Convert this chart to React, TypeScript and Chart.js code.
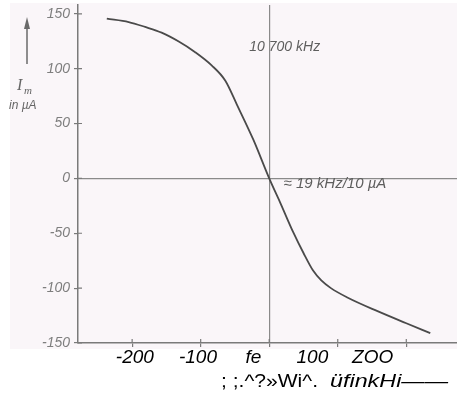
import React, { useEffect, useRef } from "react";
import { Chart, registerables } from "chart.js";

Chart.register(...registerables);

// frequency offset (kHz) and discriminator current (µA)
const freqKHz = [-237, -205, -181, -157, -132, -108, -84, -64, -47, -23, 0, 16, 35, 50, 64, 76, 90, 114, 158, 200, 235];
const currentMicroA = [145.6, 142.5, 138, 132.8, 124.7, 115, 103, 89, 67, 35, 0, -22, -49, -68, -84, -93, -100, -108.5, -121, -132, -141];

const yTickValues = [-150, -100, -50, 0, 50, 100, 150];
const xTickValues = [-200, -100, 0, 100, 200];
const xLabelTexts = ["-200", "-100", "fe", "100", "ZOO"];
const footerTextA = "; ;.^?»Wi^.";
const footerTextB = "üfinkHi——";
const centerNote = "10 700 kHz";
const slopeNote = "≈ 19 kHz/10 µA";

const AXIS_GRAY = "#7a7a7a";

function fillStretched(ctx: CanvasRenderingContext2D, text: string, x: number, y: number, width: number) {
  const w = ctx.measureText(text).width;
  ctx.save();
  ctx.translate(x, y);
  ctx.scale(width / w, 1);
  ctx.fillText(text, 0, 0);
  ctx.restore();
}

const decorPlugin = {
  id: "decor",
  beforeDraw(chart: any) {
    const { ctx, width, height } = chart;
    ctx.save();
    ctx.fillStyle = "#ffffff";
    ctx.fillRect(0, 0, width, height);
    ctx.fillStyle = "#faf6f9";
    ctx.fillRect(10, 3, width - 10, 346);
    ctx.restore();
  },
  afterDraw(chart: any) {
    const { ctx, chartArea } = chart;
    const xs = chart.scales.x;
    const ys = chart.scales.y;
    ctx.save();
    // inner halves of tick marks
    ctx.strokeStyle = AXIS_GRAY;
    ctx.lineWidth = 1.2;
    ctx.beginPath();
    for (const v of yTickValues) {
      const py = ys.getPixelForValue(v);
      ctx.moveTo(chartArea.left, py);
      ctx.lineTo(chartArea.left + 4, py);
    }
    for (const v of xTickValues) {
      const px = xs.getPixelForValue(v);
      ctx.moveTo(px, chartArea.bottom);
      ctx.lineTo(px, chartArea.bottom - 4);
    }
    ctx.stroke();

    // y-axis arrow
    ctx.strokeStyle = "#6a6a6a";
    ctx.fillStyle = "#6a6a6a";
    ctx.lineWidth = 1.5;
    ctx.beginPath();
    ctx.moveTo(27, 64);
    ctx.lineTo(27, 27);
    ctx.stroke();
    ctx.beginPath();
    ctx.moveTo(27, 17);
    ctx.lineTo(24, 29);
    ctx.lineTo(30, 29);
    ctx.closePath();
    ctx.fill();

    // y-axis title
    ctx.fillStyle = "#666";
    ctx.textBaseline = "alphabetic";
    ctx.textAlign = "left";
    ctx.font = "italic 16px 'Liberation Serif'";
    ctx.fillText("I", 17, 90);
    ctx.font = "italic 11px 'Liberation Serif'";
    ctx.fillText("m", 24, 94);
    ctx.font = "italic 12px 'Liberation Sans'";
    ctx.fillText("in µA", 9, 109);

    // annotations
    ctx.fillStyle = "#5e5e5e";
    ctx.font = "italic 14px 'Liberation Sans'";
    ctx.fillText(centerNote, xs.getPixelForValue(-29), ys.getPixelForValue(116));
    ctx.font = "italic 15px 'Liberation Sans'";
    ctx.fillText(slopeNote, xs.getPixelForValue(21), ys.getPixelForValue(-9));

    // x labels (as printed)
    const labelAnchors = [-196, -104, -23, 63, 151];
    ctx.fillStyle = "#000";
    ctx.textAlign = "center";
    ctx.font = "italic 19px 'Liberation Sans'";
    labelAnchors.forEach((v, i) => {
      ctx.fillText(xLabelTexts[i], xs.getPixelForValue(v), 363);
    });
    ctx.textAlign = "left";
    ctx.font = "19px 'Liberation Sans'";
    fillStretched(ctx, footerTextA, 221, 387, 97);
    ctx.font = "italic 19px 'Liberation Sans'";
    fillStretched(ctx, footerTextB, 330, 387, 118);
    ctx.restore();
  },
};

const gridColor = (c: any) => (c.tick && c.tick.value === 0 ? "#8a8a8a" : "rgba(0,0,0,0)");

export default function App() {
  const ref = useRef<HTMLCanvasElement | null>(null);
  useEffect(() => {
    document.body.style.margin = "0";
    const canvas = ref.current!;
    const chart = new Chart(canvas, {
      type: "scatter",
      data: {
        datasets: [
          {
            data: freqKHz.map((x, i) => ({ x, y: currentMicroA[i] })),
            showLine: true,
            borderColor: "#4a4a4a",
            borderWidth: 1.8,
            pointRadius: 0,
            cubicInterpolationMode: "monotone",
            fill: false,
          },
        ],
      },
      options: {
        responsive: false,
        animation: false,
        devicePixelRatio: 1,
        layout: { padding: { top: 5, left: 0, right: 0, bottom: 0 } },
        plugins: { legend: { display: false }, tooltip: { enabled: false } },
        scales: {
          x: {
            type: "linear",
            min: -279,
            max: 274,
            afterBuildTicks: (s: any) => {
              s.ticks = xTickValues.map((v) => ({ value: v }));
            },
            afterFit: (s: any) => {
              s.height = 56;
              s.paddingLeft = 0;
              s.paddingRight = 0;
            },
            ticks: { display: false },
            grid: { color: gridColor, lineWidth: 1.2, tickColor: AXIS_GRAY, tickLength: 4, tickWidth: 1.2 },
            border: { color: AXIS_GRAY, width: 1.5 },
          },
          y: {
            type: "linear",
            min: -150,
            max: 158,
            afterBuildTicks: (s: any) => {
              s.ticks = yTickValues.map((v) => ({ value: v }));
            },
            afterFit: (s: any) => {
              s.width = 78;
              s.paddingTop = 0;
              s.paddingBottom = 0;
            },
            ticks: {
              color: "#7e7e7e",
              padding: 4,
              font: { family: "'Liberation Sans'", style: "italic", size: 14 },
            },
            grid: { color: gridColor, lineWidth: 1.2, tickColor: AXIS_GRAY, tickLength: 4, tickWidth: 1.2 },
            border: { color: AXIS_GRAY, width: 1.5 },
          },
        },
      },
      plugins: [decorPlugin],
    } as any);
    return () => chart.destroy();
  }, []);
  return (
    <div style={{ width: 457, height: 399 }}>
      <canvas ref={ref} width={457} height={399} style={{ display: "block" }} />
    </div>
  );
}
